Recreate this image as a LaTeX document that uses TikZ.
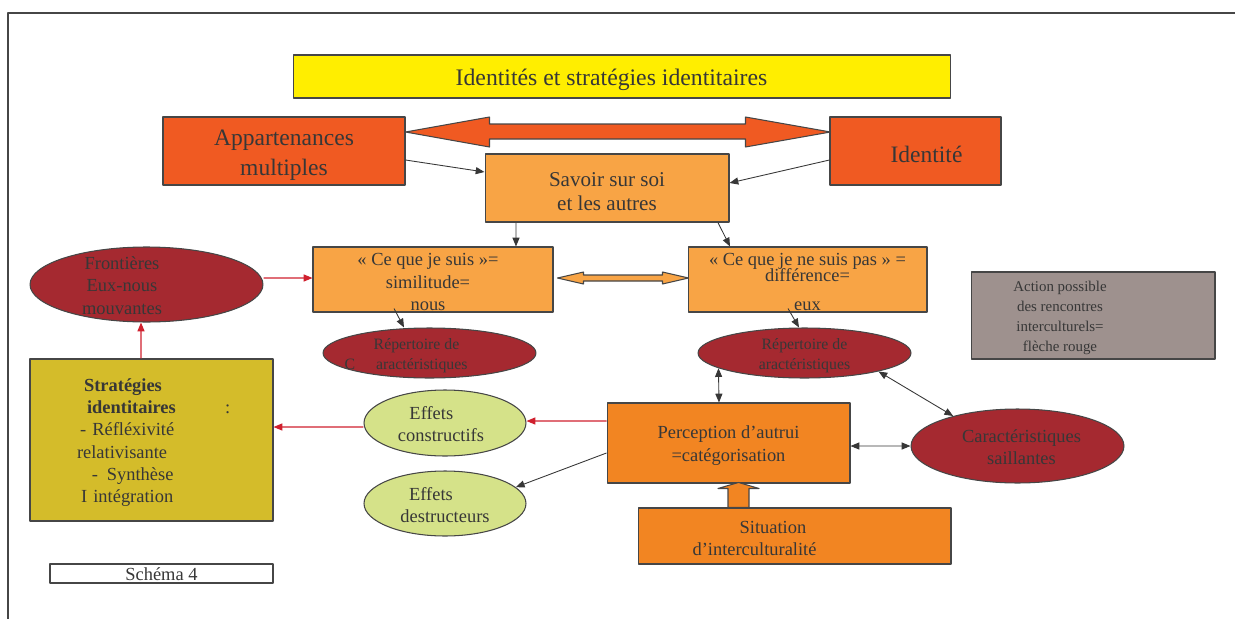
\documentclass[tikz,border=0pt]{standalone}
\usepackage{fontspec}
\setmainfont{Liberation Serif}
\usetikzlibrary{arrows.meta,shapes.geometric}
\definecolor{jaune}{RGB}{255,238,0}
\definecolor{rouille}{RGB}{240,90,34}
\definecolor{orclair}{RGB}{248,164,69}
\definecolor{orvif}{RGB}{242,133,34}
\definecolor{bordeaux}{RGB}{165,41,48}
\definecolor{olivestrat}{RGB}{212,188,42}
\definecolor{vertpale}{RGB}{213,226,137}
\definecolor{taupe}{RGB}{158,145,142}
\definecolor{trait}{RGB}{70,70,70}
\definecolor{encre}{RGB}{55,55,55}
\definecolor{rougefl}{RGB}{208,32,46}
\newcommand\ftitre{\fontsize{13.5}{16}\selectfont}
\newcommand\fgros{\fontsize{13.4}{17}\selectfont}
\newcommand\fmoyen{\fontsize{12}{13.6}\selectfont}
\newcommand\fcourant{\fontsize{10.5}{12.7}\selectfont}
\newcommand\fpetit{\fontsize{9}{11.3}\selectfont}
\newcommand\ftrespetit{\fontsize{8.5}{11.3}\selectfont}
\begin{document}
\begin{tikzpicture}[x=0.02cm,y=-0.02cm,>={Triangle[length=5pt,width=4pt]},line join=round,
	boite/.style={draw=trait,line width=0.6pt,inner sep=0pt},
	ovale/.style={boite,ellipse},
	txt/.style={text=encre,align=center,inner sep=0pt,yshift=-0.05cm},
	fl/.style={->,draw=encre,line width=0.5pt},
	flrouge/.style={->,draw=rougefl,line width=0.6pt},
	fldouble/.style={<->,draw=encre,line width=0.5pt},
	bloc/.style={draw=trait,line width=0.6pt}]
	\useasboundingbox (0,0) rectangle (1235,619);
	\draw[trait,line width=1.1pt] (1235,13) -- (8,13) -- (8,619);
	% boites
	\node[boite,fill=jaune,minimum width=13.16cm,minimum height=0.86cm,label={[txt,font=\ftitre,xshift=-0.21cm,yshift=-0.02cm]center:Identités et stratégies identitaires}] (titre) at (622,76.5) {};
	\node[boite,fill=rouille,minimum width=4.84cm,minimum height=1.36cm,label={[txt,font=\fgros,yshift=-0.04cm]center:{Appartenances\\multiples}}] (appart) at (284,151) {};
	\node[boite,fill=rouille,minimum width=3.42cm,minimum height=1.36cm,label={[txt,font=\fgros,xshift=0.22cm,yshift=-0.02cm]center:Identité}] (ident) at (915.5,151) {};
	\node[boite,fill=orclair,minimum width=4.88cm,minimum height=1.36cm,label={[txt,font=\fmoyen,yshift=-0.03cm]center:{Savoir sur soi\\et les autres}}] (savoir) at (607,188) {};
	\node[boite,fill=orclair,minimum width=4.8cm,minimum height=1.3cm,label={[txt,font=\fcourant,xshift=-0.1cm]center:{« Ce que je suis »=\\similitude=\\nous}}] (suis) at (433,279.5) {};
	\node[boite,fill=orclair,minimum width=4.78cm,minimum height=1.3cm,label={[txt,font=\fcourant]center:{« Ce que je ne suis pas » =\\[-3.6pt]différence=\\[3.9pt]eux}}] (pas) at (807.5,279.5) {};
	\node[ovale,fill=bordeaux,minimum width=4.66cm,minimum height=1.5cm,label={[txt,font=\fcourant,xshift=-0.49cm,yshift=0.03cm]center:{Frontières\\Eux-nous\\mouvantes}}] (front) at (146.5,284.5) {};
	\node[boite,fill=olivestrat,minimum width=4.86cm,minimum height=3.24cm,label={[txt,font=\fcourant,text width=3.2cm,align=left,xshift=0.11cm]center:{\hspace*{4pt}\textbf{Stratégies}\\
		\hspace*{5.7pt}\textbf{identitaires}\nobreak\hspace{28pt}:\\
		\hspace*{1.7pt}- Réfléxivité\\
		relativisante\\
		\hspace*{8.5pt}-\hspace{5pt}Synthèse\\
		\hspace*{2.3pt}I intégration}}] (strat) at (151.5,440) {};
	\node[ovale,fill=bordeaux,minimum width=4.26cm,minimum height=1cm,label={[txt,font=\fpetit,xshift=-0.47cm]center:{\hspace*{12pt}Répertoire de\\C\hspace{12pt}aractéristiques}}] (repG) at (429.5,353) {};
	\node[ovale,fill=bordeaux,minimum width=4.26cm,minimum height=1cm,label={[txt,font=\fpetit]center:{Répertoire de\\aractéristiques}}] (repD) at (804.5,353) {};
	\node[boite,fill=taupe,minimum width=4.88cm,minimum height=1.74cm,label={[txt,font=\ftrespetit,xshift=-0.66cm]center:{Action possible\\des rencontres\\interculturels=\\flèche rouge}}] (action) at (1093,315.5) {};
	\node[ovale,fill=vertpale,minimum width=3.24cm,minimum height=1.32cm,label={[txt,font=\fcourant,xshift=-0.08cm,yshift=0.03cm]center:{Effets\hspace*{11pt}\\constructifs}}] (effC) at (445,423) {};
	\node[ovale,fill=vertpale,minimum width=3.24cm,minimum height=1.3cm,label={[txt,font=\fcourant,yshift=0.02cm]center:{Effets\hspace*{16pt}\\destructeurs}}] (effD) at (445,503.5) {};
	\node[boite,fill=orvif,minimum width=4.86cm,minimum height=1.6cm,label={[txt,font=\fcourant]center:{Perception d’autrui\\=catégorisation}}] (percep) at (728.5,443) {};
	\node[ovale,fill=bordeaux,minimum width=4.26cm,minimum height=1.48cm,label={[txt,font=\fcourant,xshift=0.08cm,yshift=0.03cm]center:{Caractéristiques\\saillantes}}] (caract) at (1017.5,446) {};
	\node[boite,fill=orvif,minimum width=6.26cm,minimum height=1.12cm,label={[txt,font=\fcourant,xshift=-0.8cm]center:{\hspace*{21pt}Situation\\d’interculturalité}}] (situ) at (794.5,536) {};
	\node[boite,minimum width=4.46cm,minimum height=0.38cm,label={[txt,font=\fcourant,yshift=0.03cm]center:Schéma 4}] (schema) at (161.5,573.5) {};
	% fleches pleines
	\draw[bloc,fill=rouille] ([yshift=0.38cm]appart.east) -- ++(84,-15) -- ++(0,7) -- ++(256,0) -- ++(0,-7) -- ++(85,15) -- ++(-85,15) -- ++(0,-8) -- ++(-256,0) -- ++(0,8) -- cycle;
	\draw[bloc,fill=orclair] ([xshift=0.08cm,yshift=0.03cm]suis.east) -- ++(26,-6) -- ++(0,3) -- ++(79,0) -- ++(0,-3) -- ++(26,6) -- ++(-26,6) -- ++(0,-3) -- ++(-79,0) -- ++(0,3) -- cycle;
	\draw[bloc,fill=orvif] ([xshift=-1.12cm]situ.north) ++(-10.5,0) -- ++(0,-19) -- ++(-10,0) -- ++(20.5,-6) -- ++(20.5,6) -- ++(-10,0) -- ++(0,19) -- cycle;
	% liens
	\draw[fl] ([yshift=-0.18cm]appart.east) -- ([yshift=0.32cm]savoir.west);
	\draw[fl] ([yshift=-0.18cm]ident.west) -- ([yshift=0.1cm]savoir.east);
	\draw[fl] ([xshift=-1.82cm]savoir.south) -- ([xshift=1.66cm]suis.north);
	\draw[fl] ([xshift=2.22cm]savoir.south) -- ([xshift=-1.55cm]pas.north);
	\draw[flrouge] ([yshift=0.13cm]front.east) -- ([yshift=0.03cm]suis.west);
	\draw[flrouge] ([xshift=-0.21cm]strat.north) -- ([xshift=-0.11cm]front.south);
	\draw[fl] ([xshift=-0.78cm,yshift=0.08cm]suis.south) -- ([xshift=-0.51cm]repG.north);
	\draw[fl] ([xshift=-0.39cm,yshift=0.08cm]pas.south) -- ([xshift=-0.11cm]repD.north);
	\draw[fldouble] ([xshift=-0.19cm]percep.north) -- (repD.190);
	\draw[fldouble] (repD.-14) -- (caract.155);
	\draw[fldouble] ([yshift=-0.06cm]percep.east) -- (caract.west);
	\draw[flrouge] ([yshift=0.44cm]percep.west) -- ([yshift=0.04cm]effC.east);
	\draw[flrouge] ([yshift=-0.08cm]effC.west) -- ([yshift=0.26cm]strat.east);
	\draw[fl] ([yshift=-0.2cm]percep.west) -- (effD.13);
\end{tikzpicture}
\end{document}
